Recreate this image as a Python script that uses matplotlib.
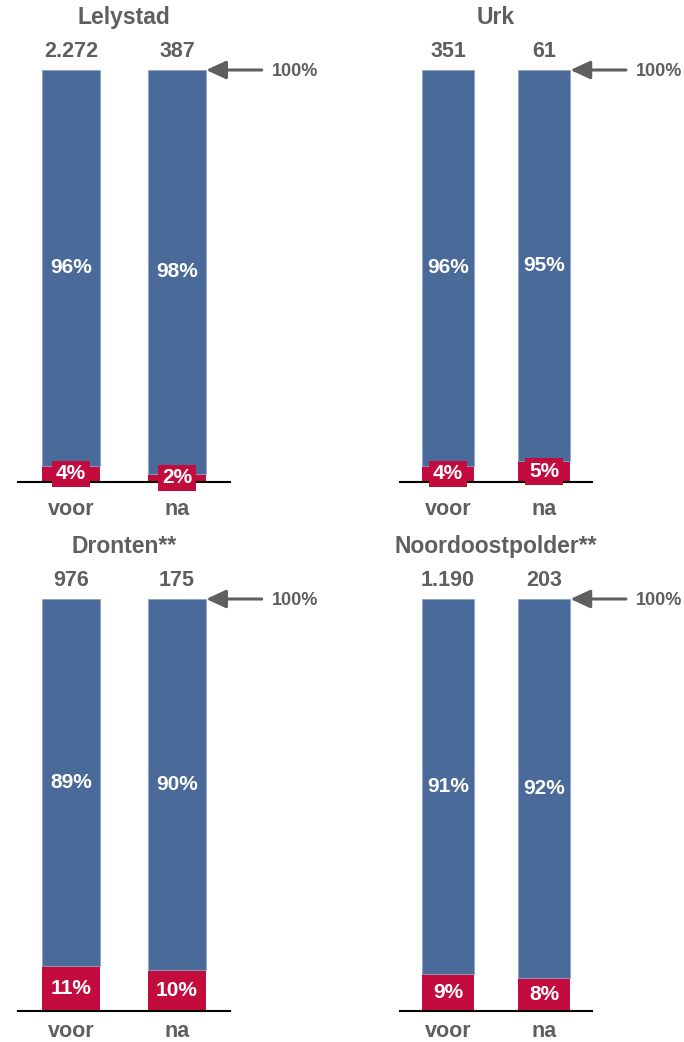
import matplotlib
matplotlib.use("Agg")
import matplotlib.pyplot as plt

plt.rcParams['font.family'] = ['Liberation Sans', 'DejaVu Sans']
plt.rcParams['font.weight'] = 'bold'

# data
regions = ["Lelystad", "Urk", "Dronten**", "Noordoostpolder**"]
periods = ["voor", "na"]
counts = [["2.272", "387"], ["351", "61"], ["976", "175"], ["1.190", "203"]]
share_blue = [[96, 98], [96, 95], [89, 90], [91, 92]]
share_red = [[4, 2], [4, 5], [11, 10], [9, 8]]

BLUE = '#4a6a99'
RED = '#c20c3e'
GREY = '#5f5f5f'

W, H = 684, 1042
fig = plt.figure(figsize=(W / 100, H / 100), dpi=100)

# axes boxes in pixels: left, top (100%), width, bottom (baseline)
boxes = [(18, 70, 212, 482), (400, 70, 192, 482),
         (18, 599, 212, 1011), (400, 599, 192, 1011)]
label_pads = [12, 12, 7, 7]

for i, (l, t, w, b) in enumerate(boxes):
    ax = fig.add_axes([l / W, 1 - b / H, w / W, (b - t) / H])
    x = [0, 1]
    bw = 0.55
    ax.bar(x, share_red[i], width=bw, color=RED, zorder=2)
    ax.bar(x, share_blue[i], width=bw, bottom=share_red[i], color=BLUE,
           edgecolor='#8ea3c4', linewidth=0.6, zorder=2)
    ax.set_xlim(-0.5, 1.5)
    ax.set_ylim(0, 100)

    for j in range(2):
        r = share_red[i][j]
        bl = share_blue[i][j]
        ax.text(j, r + bl / 2, f"{bl}%", ha='center', va='center',
                color='white', fontsize=15, zorder=4)
        ax.text(j, r / 2, f"{r}%", ha='center', va='center', color='white',
                fontsize=15, zorder=4,
                bbox=dict(boxstyle='square,pad=0.18', fc=RED, ec='none'))
        ax.annotate(counts[i][j], xy=(j, 100), xytext=(0, 6),
                    textcoords='offset points', ha='center', va='bottom',
                    color=GREY, fontsize=15.5, annotation_clip=False)

    ax.annotate('', xy=(1 + bw / 2, 100), xycoords='data',
                xytext=(40, 0), textcoords='offset points',
                arrowprops=dict(arrowstyle='-|>,head_length=0.8,head_width=0.37',
                                color=GREY, lw=2.2, mutation_scale=15,
                                shrinkA=0, shrinkB=0),
                annotation_clip=False)
    ax.annotate('100%', xy=(1 + bw / 2, 100), xycoords='data',
                xytext=(47, -1), textcoords='offset points',
                ha='left', va='center', color=GREY, fontsize=13,
                annotation_clip=False)

    ax.set_title(regions[i], color=GREY, fontsize=16.5, pad=33,
                 fontweight='bold')

    ax.set_xticks(x)
    ax.set_xticklabels(periods, color=GREY, fontsize=15.5)
    ax.tick_params(axis='x', length=0, pad=label_pads[i])
    ax.set_yticks([])
    for s in ['top', 'left', 'right']:
        ax.spines[s].set_visible(False)
    ax.spines['bottom'].set_linewidth(1.5)
    ax.spines['bottom'].set_color('black')

fig.savefig('out.png', dpi=100)
